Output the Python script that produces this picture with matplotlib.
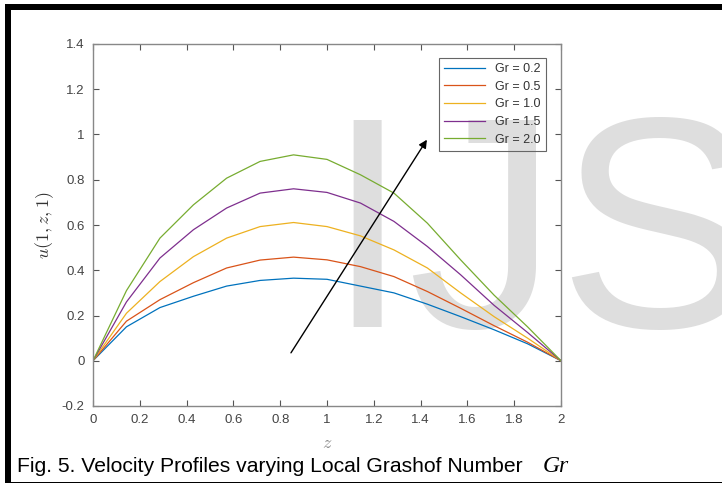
import numpy as np
import matplotlib
matplotlib.use("Agg")
import matplotlib.pyplot as plt
from matplotlib.patches import Rectangle

# values (15 points per curve)
z = [0.0, 0.143, 0.286, 0.429, 0.571, 0.714, 0.857, 1.0,
     1.143, 1.286, 1.429, 1.571, 1.714, 1.857, 2.0]
u_gr02 = [0, 0.150, 0.235, 0.285, 0.330, 0.355, 0.365, 0.360,
          0.330, 0.300, 0.250, 0.195, 0.137, 0.075, 0]
u_gr05 = [0, 0.175, 0.270, 0.345, 0.410, 0.445, 0.458, 0.446,
          0.416, 0.372, 0.306, 0.232, 0.155, 0.082, 0]
u_gr10 = [0, 0.210, 0.350, 0.460, 0.542, 0.593, 0.611, 0.593,
          0.552, 0.490, 0.410, 0.300, 0.195, 0.100, 0]
u_gr15 = [0, 0.260, 0.454, 0.579, 0.675, 0.741, 0.760, 0.744,
          0.697, 0.616, 0.505, 0.380, 0.245, 0.125, 0]
u_gr20 = [0, 0.310, 0.542, 0.689, 0.807, 0.881, 0.910, 0.890,
          0.822, 0.741, 0.608, 0.446, 0.290, 0.150, 0]

labels = ["Gr = 0.2", "Gr = 0.5", "Gr = 1.0", "Gr = 1.5", "Gr = 2.0"]
colors = ["#0072BD", "#D95319", "#EDB120", "#7E2F8E", "#77AC30"]

xticks = [0, 0.2, 0.4, 0.6, 0.8, 1, 1.2, 1.4, 1.6, 1.8, 2]
xticklabels = ["0", "0.2", "0.4", "0.6", "0.8", "1", "1.2", "1.4", "1.6", "1.8", "2"]
yticks = [-0.2, 0, 0.2, 0.4, 0.6, 0.8, 1, 1.2, 1.4]
yticklabels = ["-0.2", "0", "0.2", "0.4", "0.6", "0.8", "1", "1.2", "1.4"]

arrow_start = (0.846, 0.035)
arrow_end = (1.427, 0.977)

plt.rcParams['font.family'] = ['Liberation Sans', 'DejaVu Sans']
plt.rcParams['mathtext.fontset'] = 'cm'

fig = plt.figure(figsize=(7.22, 4.83), dpi=100)

# watermark behind everything
fig.text(325 / 722, 1 - 327 / 483, "IJS", fontsize=216, color="#dedede",
         ha="left", va="baseline", zorder=-5)

ax = fig.add_axes([93 / 722, 1 - 406 / 483, 468 / 722, 362 / 483])
ax.set_facecolor("none")

series = [u_gr02, u_gr05, u_gr10, u_gr15, u_gr20]
for vals, lab, col in zip(series, labels, colors):
    ax.plot(z, vals, color=col, lw=0.9, label=lab)

ax.annotate("", xy=arrow_end, xytext=arrow_start,
            arrowprops=dict(arrowstyle="-|>", color="black", lw=1.0,
                            mutation_scale=12, shrinkA=0, shrinkB=0))

ax.set_xlim(0, 2)
ax.set_ylim(-0.2, 1.4)
ax.set_xticks(xticks)
ax.set_xticklabels(xticklabels)
ax.set_yticks(yticks)
ax.set_yticklabels(yticklabels)
ax.tick_params(direction="in", top=True, right=True, length=4, width=0.8,
               color="#555555", labelcolor="#444444", labelsize=9.5, pad=6)
for sp in ax.spines.values():
    sp.set_color("#888888")
    sp.set_linewidth(1.0)

ax.set_xlabel("$z$", fontsize=13, color="#888888", labelpad=6)
ax.set_ylabel("$u(1,z,1)$", fontsize=13, color="#333333", labelpad=4)

leg = ax.legend(loc="upper left", bbox_to_anchor=(0.739, 0.961), borderaxespad=0,
                fontsize=9, handlelength=3.3, labelspacing=0.45, fancybox=False,
                facecolor="none", edgecolor="#666666", framealpha=1)
leg.get_frame().set_linewidth(0.8)
for t in leg.get_texts():
    t.set_color("#333333")

# black frame of the page figure
fig.add_artist(Rectangle((5 / 722, 1 - 10 / 483), 717 / 722, 6 / 483,
                         transform=fig.transFigure, color="black", lw=0))
fig.add_artist(Rectangle((5 / 722, 0), 6 / 722, 1 - 4 / 483,
                         transform=fig.transFigure, color="black", lw=0))
fig.add_artist(Rectangle((5 / 722, 0), 717 / 722, 1.5 / 483,
                         transform=fig.transFigure, color="black", lw=0))

fig.text(17 / 722, 1 - 471.5 / 483, "Fig. 5. Velocity Profiles varying Local Grashof Number",
         fontsize=15.2, color="black", ha="left", va="baseline")
fig.text(543 / 722, 1 - 471.5 / 483, "Gr", fontsize=17, family="Liberation Serif",
         style="italic", color="black", ha="left", va="baseline")

fig.savefig("out.png", dpi=100)
